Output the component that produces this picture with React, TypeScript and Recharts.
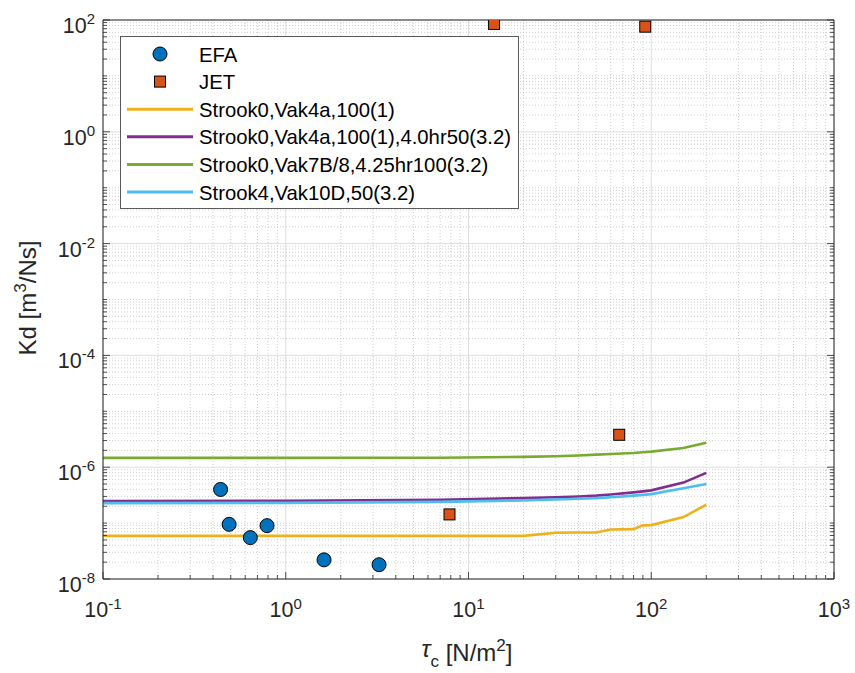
import React from 'react';
import { ComposedChart, Line, Scatter, XAxis, YAxis, ReferenceLine } from 'recharts';

// measured points
const efaX = [0.44, 0.49, 0.64, 0.79, 1.62, 3.24];
const efaY = [4.0e-7, 9.5e-8, 5.5e-8, 9.0e-8, 2.2e-8, 1.8e-8];
const jetX = [13.8, 92.7, 66.8, 7.87];
const jetY = [85, 76, 3.8e-6, 1.43e-7];

// model curves
const lineX = [0.1, 1, 7, 20, 30, 40, 50, 60, 80, 90, 100, 150, 200];
const yellowY = [5.9e-8, 5.9e-8, 5.9e-8, 5.9e-8, 6.7e-8, 6.8e-8, 6.8e-8, 7.7e-8, 7.8e-8, 9.1e-8, 9.2e-8, 1.28e-7, 2.13e-7];
const purpleY = [2.47e-7, 2.5e-7, 2.62e-7, 2.8e-7, 2.9e-7, 3.0e-7, 3.1e-7, 3.25e-7, 3.55e-7, 3.7e-7, 3.85e-7, 5.3e-7, 7.9e-7];
const greenY = [1.47e-6, 1.47e-6, 1.48e-6, 1.53e-6, 1.57e-6, 1.62e-6, 1.68e-6, 1.72e-6, 1.8e-6, 1.85e-6, 1.9e-6, 2.2e-6, 2.73e-6];
const cyanY = [2.28e-7, 2.3e-7, 2.4e-7, 2.55e-7, 2.65e-7, 2.72e-7, 2.8e-7, 2.9e-7, 3.1e-7, 3.2e-7, 3.3e-7, 4.2e-7, 5.0e-7];

const seriesNames = [
  'EFA',
  'JET',
  'Strook0,Vak4a,100(1)',
  'Strook0,Vak4a,100(1),4.0hr50(3.2)',
  'Strook0,Vak7B/8,4.25hr100(3.2)',
  'Strook4,Vak10D,50(3.2)',
];

// axis ticks
const xDecades = [0.1, 1, 10, 100, 1000];
const yDecades = [1e-8, 1e-7, 1e-6, 1e-5, 1e-4, 1e-3, 1e-2, 1e-1, 1, 10, 100];
const yLabelled = [1e-8, 1e-6, 1e-4, 1e-2, 1, 100];
const minorMult = [2, 3, 4, 5, 6, 7, 8, 9];

const xTicks = [...xDecades, ...xDecades.slice(0, -1).flatMap((d) => minorMult.map((m) => m * d))];
const yTicks = [...yDecades, ...yDecades.slice(0, -1).flatMap((d) => minorMult.map((m) => m * d))];

const BLUE = '#0072BD';
const ORANGE = '#D95319';
const YELLOW = '#EDB120';
const PURPLE = '#7E2F8E';
const GREEN = '#77AC30';
const CYAN = '#4DBEEE';
const AXIS = '#262626';
const FONT = '"Liberation Sans", Arial, sans-serif';

const pts = (xs: number[], ys: number[]) => xs.map((x, i) => ({ x, y: ys[i] }));
const efa = pts(efaX, efaY);
const jet = pts(jetX, jetY);
const curves = [
  { name: seriesNames[2], color: YELLOW, data: pts(lineX, yellowY) },
  { name: seriesNames[3], color: PURPLE, data: pts(lineX, purpleY) },
  { name: seriesNames[4], color: GREEN, data: pts(lineX, greenY) },
  { name: seriesNames[5], color: CYAN, data: pts(lineX, cyanY) },
];

const isDecade = (v: number) => Math.abs(Math.log10(v) - Math.round(Math.log10(v))) < 1e-6;
const isYLabel = (v: number) => yLabelled.some((t) => Math.abs(Math.log10(t) - Math.log10(v)) < 1e-6);
const expOf = (v: number) => Math.round(Math.log10(v));

const BottomTick = ({ x, y, payload }: any) => {
  const v = payload.value;
  const major = isDecade(v);
  return (
    <g>
      <line x1={x} x2={x} y1={y} y2={y - (major ? 7 : 4)} stroke={AXIS} strokeWidth={0.8} />
      {major && (
        <text x={x} y={y + 38} textAnchor="middle" fontSize={21.5} fill={AXIS} fontFamily={FONT}>
          <tspan>10</tspan>
          <tspan dy={-8} fontSize={15}>{expOf(v)}</tspan>
        </text>
      )}
    </g>
  );
};

const TopTick = ({ x, y, payload }: any) => {
  const major = isDecade(payload.value);
  return <line x1={x} x2={x} y1={y} y2={y + (major ? 7 : 4)} stroke={AXIS} strokeWidth={0.8} />;
};

const LeftTick = ({ x, y, payload }: any) => {
  const v = payload.value;
  const major = isYLabel(v);
  return (
    <g>
      <line x1={x} x2={x + (major ? 7 : 4)} y1={y} y2={y} stroke={AXIS} strokeWidth={0.8} />
      {major && (
        <text x={x - 8} y={y + 13} textAnchor="end" fontSize={21.5} fill={AXIS} fontFamily={FONT}>
          <tspan>10</tspan>
          <tspan dy={-9} fontSize={15}>{expOf(v)}</tspan>
        </text>
      )}
    </g>
  );
};

const RightTick = ({ x, y, payload }: any) => {
  const major = isYLabel(payload.value);
  return <line x1={x} x2={x - (major ? 7 : 4)} y1={y} y2={y} stroke={AXIS} strokeWidth={0.8} />;
};

const Legend = () => (
  <div
    style={{
      position: 'absolute',
      left: 120,
      top: 36,
      width: 399,
      height: 173,
      boxSizing: 'border-box',
      border: '1px solid #5a5a5a',
      background: '#fff',
    }}
  >
    <svg width={397} height={171} style={{ display: 'block', overflow: 'visible' }}>
      {seriesNames.map((name, i) => {
        const cy = 17 + i * 27.6;
        return (
          <g key={name}>
            {i === 0 && <circle cx={39} cy={cy} r={7} fill={BLUE} stroke="#000" strokeWidth={1} />}
            {i === 1 && <rect x={33.5} y={cy - 5.5} width={11} height={11} fill={ORANGE} stroke="#000" strokeWidth={1} />}
            {i > 1 && <line x1={6} x2={72} y1={cy} y2={cy} stroke={curves[i - 2].color} strokeWidth={3} />}
            <text x={78} y={cy + 7.5} fontSize={20.3} fontFamily={FONT} fill="#000">
              {name}
            </text>
          </g>
        );
      })}
    </svg>
  </div>
);

export default function App() {
  return (
    <div style={{ position: 'absolute', left: 0, top: 0, width: 855, height: 673, background: '#fff' }}>
      <ComposedChart width={855} height={673} margin={{ top: 10, right: 11, bottom: 4, left: 3 }}>
        <XAxis
          dataKey="x"
          type="number"
          scale="log"
          domain={[0.1, 1000]}
          allowDataOverflow
          ticks={xTicks}
          interval={0}
          tickSize={0}
          tickMargin={0}
          tickLine={false}
          axisLine={{ stroke: AXIS }}
          tick={(p: any) => <BottomTick {...p} />}
          height={90}
        />
        <XAxis
          xAxisId="top"
          orientation="top"
          type="number"
          scale="log"
          domain={[0.1, 1000]}
          allowDataOverflow
          ticks={xTicks}
          interval={0}
          tickSize={0}
          tickMargin={0}
          tickLine={false}
          axisLine={{ stroke: AXIS }}
          tick={(p: any) => <TopTick {...p} />}
          height={10}
        />
        <YAxis
          dataKey="y"
          type="number"
          scale="log"
          domain={[1e-8, 100]}
          allowDataOverflow
          ticks={yTicks}
          interval={0}
          tickSize={0}
          tickMargin={0}
          tickLine={false}
          axisLine={{ stroke: AXIS }}
          tick={(p: any) => <LeftTick {...p} />}
          width={100}
        />
        <YAxis
          yAxisId="right"
          orientation="right"
          type="number"
          scale="log"
          domain={[1e-8, 100]}
          allowDataOverflow
          ticks={yTicks}
          interval={0}
          tickSize={0}
          tickMargin={0}
          tickLine={false}
          axisLine={{ stroke: AXIS }}
          tick={(p: any) => <RightTick {...p} />}
          width={10}
        />
        {xTicks.map((v) => (
          <ReferenceLine
            key={'gx' + v}
            x={v}
            stroke={isDecade(v) ? '#dedede' : '#c4c4c4'}
            strokeDasharray={isDecade(v) ? undefined : '1 2'}
            strokeWidth={isDecade(v) ? 1 : 0.8}
          />
        ))}
        {yTicks.map((v) => (
          <ReferenceLine
            key={'gy' + v}
            y={v}
            stroke={isYLabel(v) ? '#dedede' : '#c4c4c4'}
            strokeDasharray={isYLabel(v) ? undefined : '1 2'}
            strokeWidth={isYLabel(v) ? 1 : 0.8}
          />
        ))}
        {curves.map((c) => (
          <Line
            key={c.name}
            data={c.data}
            dataKey="y"
            name={c.name}
            type="linear"
            stroke={c.color}
            strokeWidth={2.6}
            dot={false}
            activeDot={false}
            isAnimationActive={false}
          />
        ))}
        <Scatter
          data={efa}
          dataKey="y"
          name={seriesNames[0]}
          isAnimationActive={false}
          shape={(p: any) => <circle cx={p.cx} cy={p.cy} r={7} fill={BLUE} stroke="#000" strokeWidth={1} />}
        />
        <Scatter
          data={jet}
          dataKey="y"
          name={seriesNames[1]}
          isAnimationActive={false}
          shape={(p: any) => (
            <rect x={p.cx - 5.5} y={p.cy - 5.5} width={11} height={11} fill={ORANGE} stroke="#000" strokeWidth={1} />
          )}
        />
      </ComposedChart>
      <svg width={855} height={673} style={{ position: 'absolute', left: 0, top: 0, pointerEvents: 'none' }}>
        <text x={467} y={661} textAnchor="middle" fontSize={24} fill={AXIS} fontFamily={FONT}>
          <tspan fontStyle="italic" dy={-4}>τ</tspan>
          <tspan fontSize={17} dy={10}>c</tspan>
          <tspan dy={-6}> [N/m</tspan>
          <tspan fontSize={17} dy={-10}>2</tspan>
          <tspan dy={10}>]</tspan>
        </text>
        <text
          x={36}
          y={298}
          transform="rotate(-90 36 298)"
          textAnchor="middle"
          fontSize={24}
          fill={AXIS}
          fontFamily={FONT}
        >
          <tspan>Kd [m</tspan>
          <tspan fontSize={17} dy={-10}>3</tspan>
          <tspan dy={10}>/Ns]</tspan>
        </text>
      </svg>
      <Legend />
    </div>
  );
}
